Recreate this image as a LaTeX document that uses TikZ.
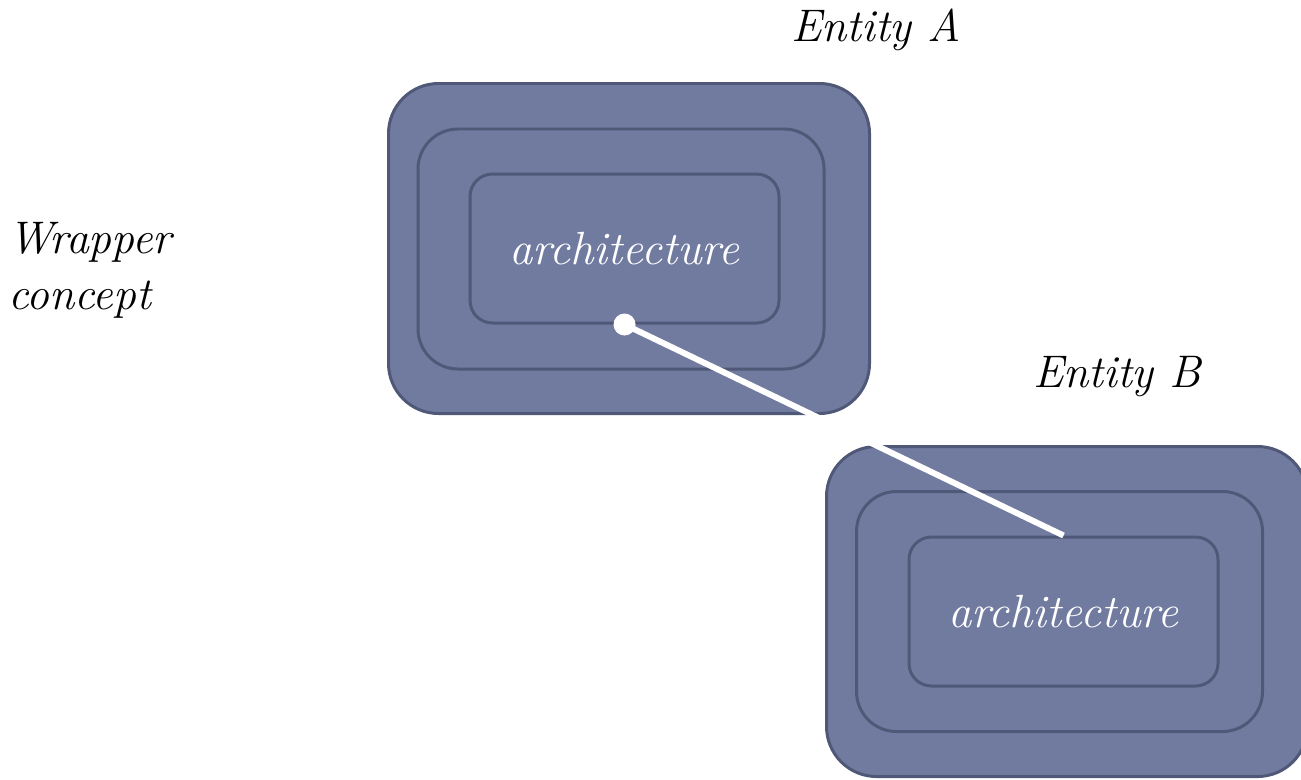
\documentclass[tikz,border=0pt]{standalone}
\usepackage{xcolor}
\usepackage{tikz}

\definecolor{boxfill}{RGB}{113,123,160}
\definecolor{boxline}{RGB}{80,88,120}

\begin{document}
\begin{tikzpicture}[
    outerbox/.style={draw=boxline, fill=boxfill, line width=1.7pt,
        rounded corners=1cm, minimum width=9.62cm, minimum height=6.6cm},
    midbox/.style={draw=boxline, line width=1.7pt, rounded corners=0.8cm,
        minimum width=8.12cm, minimum height=4.8cm},
    innerbox/.style={draw=boxline, line width=1.7pt, rounded corners=0.45cm,
        minimum width=6.18cm, minimum height=2.98cm, text=white,
        font=\fontsize{26.5}{30}\selectfont\itshape},
    label/.style={font=\fontsize{26}{32}\selectfont\itshape},
    every node/.style={inner sep=0pt}
]
    \clip (0,0) rectangle (26.02,-15.58);

    % entity A
    \node[outerbox] (outerA) at (12.58,-4.97) {};
    \node[midbox] (midA) at (12.42,-4.98) {};
    \node[innerbox] (innerA) at (12.49,-4.97) {architecture};
    \node[label] (entA) at (17.52,-0.6) {Entity A};

    % entity B
    \node[outerbox] (outerB) at (21.34,-12.23) {};
    \node[midbox] (midB) at (21.19,-12.23) {};
    \node[innerbox] (innerB) at (21.27,-12.23) {architecture};
    \node[label] (entB) at (22.34,-7.54) {Entity B};

    \node[label, anchor=west, align=left] (wrap) at (0.16,-5.4) {Wrapper\\concept};

    % link between the two architectures
    \draw[white, line width=3.4pt] (innerA.south) -- (innerB.north);
    \fill[white] (innerA.south) circle (0.22);
\end{tikzpicture}
\end{document}
